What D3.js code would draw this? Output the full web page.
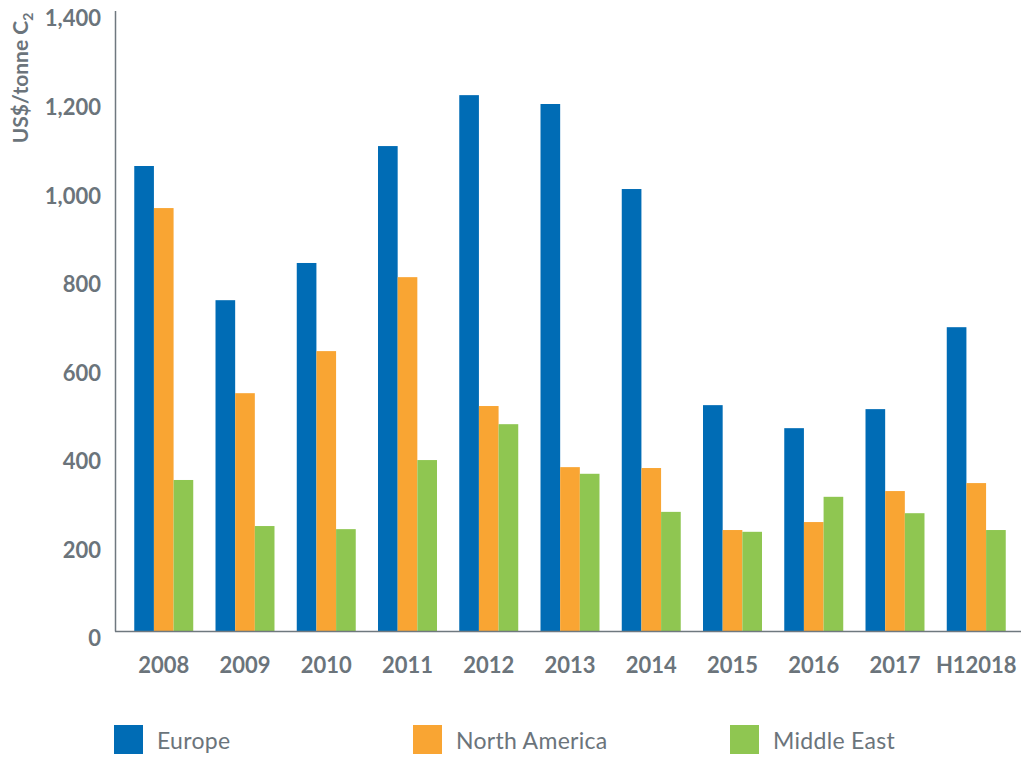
<!DOCTYPE html>
<html>
<head>
<meta charset="utf-8">
<script src="https://cdn.jsdelivr.net/npm/d3@7/dist/d3.min.js"></script>
<style>
  html, body { margin: 0; padding: 0; background: #fff; }
  svg { display: block; }
  text { font-family: Lato, "Open Sans", sans-serif; fill: #6b747b; }
</style>
</head>
<body>
<svg id="chart" width="1024" height="758"></svg>
<script>
const categories = ["2008","2009","2010","2011","2012","2013","2014","2015","2016","2017","H12018"];
const seriesNames = ["Europe","North America","Middle East"];
const europe       = [1050, 747, 831, 1095, 1210, 1190, 998, 510, 458, 501, 686];
const northAmerica = [955, 537, 632, 799, 508, 370, 368, 228, 246, 316, 334];
const middleEast   = [341, 237, 230, 386, 467, 355, 269, 224, 303, 266, 228];
const yTicks = [0, 200, 400, 600, 800, 1000, 1200, 1400];
const colors = ["#006cb5", "#f9a533", "#8fc651"];

const seriesValues = [europe, northAmerica, middleEast];
const svg = d3.select("#chart");

const x0 = d3.scaleBand().domain(categories).range([115, 1025]).paddingInner(0.274).paddingOuter(0.237);
const x1 = d3.scaleBand().domain(seriesNames).range([0, x0.bandwidth()]);
const y = d3.scaleLinear().domain([0, 1400]).range([631, 11]);

// bars
const groups = svg.append("g").selectAll("g").data(categories).join("g")
  .attr("transform", d => `translate(${x0(d)},0)`);
groups.selectAll("rect")
  .data((c, i) => seriesNames.map((s, k) => ({s, k, v: seriesValues[k][i]})))
  .join("rect")
  .attr("x", d => x1(d.s))
  .attr("width", x1.bandwidth())
  .attr("y", d => y(d.v))
  .attr("height", d => y(0) - y(d.v))
  .attr("fill", d => colors[d.k]);

// axes lines
const axisColor = "#6f787f";
svg.append("line").attr("x1", 115.5).attr("x2", 115.5).attr("y1", 11).attr("y2", 631.5)
  .attr("stroke", axisColor).attr("stroke-width", 1.5);
svg.append("line").attr("x1", 115).attr("x2", 1021).attr("y1", 631.5).attr("y2", 631.5)
  .attr("stroke", axisColor).attr("stroke-width", 1.5);

// y tick labels
const yAxis = d3.axisLeft(y).tickValues(yTicks).tickSize(0).tickPadding(0).tickFormat(d3.format(","));
const gy = svg.append("g").attr("transform", "translate(101,7)").call(yAxis);
gy.select(".domain").remove();
gy.selectAll("text").style("font-size", "22px").style("font-weight", "700")
  .attr("fill", "#6b747b").attr("dy", "0.36em");

// x tick labels
const xAxis = d3.axisBottom(x0).tickSize(0).tickPadding(0);
const gx = svg.append("g").attr("transform", "translate(0,657)").call(xAxis);
gx.select(".domain").remove();
gx.selectAll("text").style("font-size", "22px").style("font-weight", "700")
  .attr("fill", "#6b747b").attr("dy", "0.72em");

// y title
const title = svg.append("text")
  .attr("transform", "translate(28,78) rotate(-90)")
  .attr("text-anchor", "middle")
  .style("font-size", "21px").style("font-weight", "700");
title.append("tspan").text("US$/tonne C");
title.append("tspan").text("2").style("font-size", "14px").attr("dy", "5");

// legend
const legendX = [114, 413, 730];
const lg = svg.append("g").selectAll("g").data(seriesNames).join("g")
  .attr("transform", (d, i) => `translate(${legendX[i]},725)`);
lg.append("rect").attr("width", 29).attr("height", 29).attr("fill", (d, i) => colors[i]);
lg.append("text").attr("x", 43).attr("y", 24).text(d => d)
  .style("font-size", "23px").style("font-weight", "400").style("letter-spacing", "0.3px");
</script>
</body>
</html>
